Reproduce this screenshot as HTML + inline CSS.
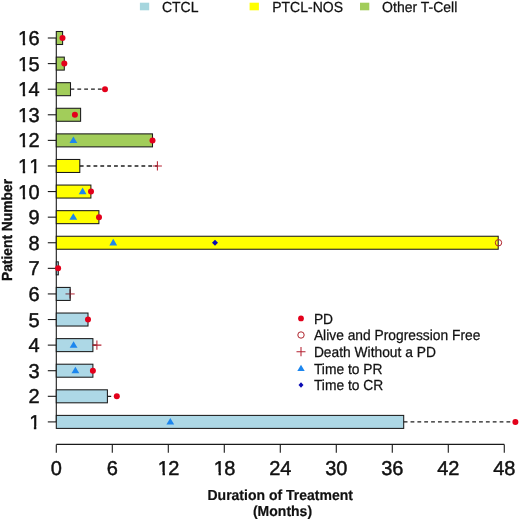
<!DOCTYPE html><html><head><meta charset="utf-8"><title>Swimmer plot</title><style>html,body{margin:0;padding:0;background:#fff;overflow:hidden;}svg{display:block;will-change:transform;}text{font-family:"Liberation Sans",sans-serif;text-rendering:geometricPrecision;stroke:#111;stroke-width:0.25px;}text.n{stroke-width:0.45px;}text.b{stroke-width:0.2px;}</style></head><body>
<svg width="520" height="520" viewBox="0 0 520 520">
<rect width="520" height="520" fill="#fff"/>
<rect x="139.9" y="2.7" width="9.3" height="7.6" fill="#A6D6DE"/>
<text transform="translate(161.90,11.70) scale(1,1.04)" font-size="14" fill="#111">CTCL</text>
<rect x="249.6" y="2.7" width="9.3" height="7.6" fill="#FFFF00"/>
<text transform="translate(272.20,11.70) scale(1,1.04)" font-size="14" fill="#111">PTCL-NOS</text>
<rect x="360.0" y="2.7" width="9.3" height="7.6" fill="#A2CD5A"/>
<text transform="translate(382.10,11.70) scale(1,1.04)" font-size="14" fill="#111">Other T-Cell</text>
<line x1="56.3" y1="38.00" x2="56.3" y2="421.90" stroke="#1a1a1a" stroke-width="1.1"/>
<line x1="47.8" y1="421.90" x2="56.3" y2="421.90" stroke="#1a1a1a" stroke-width="1.1"/>
<text class="n" x="29.18" y="428.90" font-size="20.0" fill="#111" clip-path="url(#c1)">1</text>
<line x1="47.8" y1="396.31" x2="56.3" y2="396.31" stroke="#1a1a1a" stroke-width="1.1"/>
<text class="n" x="28.48" y="403.31" font-size="20.0" fill="#111">2</text>
<line x1="47.8" y1="370.71" x2="56.3" y2="370.71" stroke="#1a1a1a" stroke-width="1.1"/>
<text class="n" x="28.48" y="377.71" font-size="20.0" fill="#111">3</text>
<line x1="47.8" y1="345.12" x2="56.3" y2="345.12" stroke="#1a1a1a" stroke-width="1.1"/>
<text class="n" x="28.48" y="352.12" font-size="20.0" fill="#111">4</text>
<line x1="47.8" y1="319.53" x2="56.3" y2="319.53" stroke="#1a1a1a" stroke-width="1.1"/>
<text class="n" x="28.48" y="326.53" font-size="20.0" fill="#111">5</text>
<line x1="47.8" y1="293.93" x2="56.3" y2="293.93" stroke="#1a1a1a" stroke-width="1.1"/>
<text class="n" x="28.48" y="300.93" font-size="20.0" fill="#111">6</text>
<line x1="47.8" y1="268.34" x2="56.3" y2="268.34" stroke="#1a1a1a" stroke-width="1.1"/>
<text class="n" x="28.48" y="275.34" font-size="20.0" fill="#111">7</text>
<line x1="47.8" y1="242.75" x2="56.3" y2="242.75" stroke="#1a1a1a" stroke-width="1.1"/>
<text class="n" x="28.48" y="249.75" font-size="20.0" fill="#111">8</text>
<line x1="47.8" y1="217.16" x2="56.3" y2="217.16" stroke="#1a1a1a" stroke-width="1.1"/>
<text class="n" x="28.48" y="224.16" font-size="20.0" fill="#111">9</text>
<line x1="47.8" y1="191.56" x2="56.3" y2="191.56" stroke="#1a1a1a" stroke-width="1.1"/>
<text class="n" x="18.05 28.48" y="198.56" font-size="20.0" fill="#111" clip-path="url(#c10)">10</text>
<line x1="47.8" y1="165.97" x2="56.3" y2="165.97" stroke="#1a1a1a" stroke-width="1.1"/>
<text class="n" x="18.05 29.18" y="172.97" font-size="20.0" fill="#111" clip-path="url(#c11)">11</text>
<line x1="47.8" y1="140.38" x2="56.3" y2="140.38" stroke="#1a1a1a" stroke-width="1.1"/>
<text class="n" x="18.05 28.48" y="147.38" font-size="20.0" fill="#111" clip-path="url(#c12)">12</text>
<line x1="47.8" y1="114.78" x2="56.3" y2="114.78" stroke="#1a1a1a" stroke-width="1.1"/>
<text class="n" x="18.05 28.48" y="121.78" font-size="20.0" fill="#111" clip-path="url(#c13)">13</text>
<line x1="47.8" y1="89.19" x2="56.3" y2="89.19" stroke="#1a1a1a" stroke-width="1.1"/>
<text class="n" x="18.05 28.48" y="96.19" font-size="20.0" fill="#111" clip-path="url(#c14)">14</text>
<line x1="47.8" y1="63.60" x2="56.3" y2="63.60" stroke="#1a1a1a" stroke-width="1.1"/>
<text class="n" x="18.05 28.48" y="70.60" font-size="20.0" fill="#111" clip-path="url(#c15)">15</text>
<line x1="47.8" y1="38.00" x2="56.3" y2="38.00" stroke="#1a1a1a" stroke-width="1.1"/>
<text class="n" x="18.05 28.48" y="45.00" font-size="20.0" fill="#111" clip-path="url(#c16)">16</text>
<line x1="56.3" y1="444.4" x2="504.28" y2="444.4" stroke="#1a1a1a" stroke-width="1.1"/>
<line x1="56.30" y1="444.4" x2="56.30" y2="452.8" stroke="#1a1a1a" stroke-width="1.1"/>
<text class="n" x="50.74" y="474.60" font-size="20.0" fill="#111">0</text>
<line x1="112.30" y1="444.4" x2="112.30" y2="452.8" stroke="#1a1a1a" stroke-width="1.1"/>
<text class="n" x="106.74" y="474.60" font-size="20.0" fill="#111">6</text>
<line x1="168.30" y1="444.4" x2="168.30" y2="452.8" stroke="#1a1a1a" stroke-width="1.1"/>
<text class="n" x="157.87 168.30" y="474.60" font-size="20.0" fill="#111" clip-path="url(#x12)">12</text>
<line x1="224.29" y1="444.4" x2="224.29" y2="452.8" stroke="#1a1a1a" stroke-width="1.1"/>
<text class="n" x="213.87 224.29" y="474.60" font-size="20.0" fill="#111" clip-path="url(#x18)">18</text>
<line x1="280.29" y1="444.4" x2="280.29" y2="452.8" stroke="#1a1a1a" stroke-width="1.1"/>
<text class="n" x="269.17 280.29" y="474.60" font-size="20.0" fill="#111">24</text>
<line x1="336.29" y1="444.4" x2="336.29" y2="452.8" stroke="#1a1a1a" stroke-width="1.1"/>
<text class="n" x="325.17 336.29" y="474.60" font-size="20.0" fill="#111">30</text>
<line x1="392.29" y1="444.4" x2="392.29" y2="452.8" stroke="#1a1a1a" stroke-width="1.1"/>
<text class="n" x="381.16 392.29" y="474.60" font-size="20.0" fill="#111">36</text>
<line x1="448.29" y1="444.4" x2="448.29" y2="452.8" stroke="#1a1a1a" stroke-width="1.1"/>
<text class="n" x="437.16 448.29" y="474.60" font-size="20.0" fill="#111">42</text>
<line x1="504.28" y1="444.4" x2="504.28" y2="452.8" stroke="#1a1a1a" stroke-width="1.1"/>
<text class="n" x="493.16 504.28" y="474.60" font-size="20.0" fill="#111">48</text>
<defs><clipPath id="c1"><rect x="18.48" y="128.90" width="31.12" height="297.30"/><rect x="18.48" y="426.20" width="10.40" height="6"/><rect x="33.91" y="426.20" width="2.37" height="6"/><rect x="40.30" y="426.20" width="9.30" height="6"/></clipPath><clipPath id="c10"><rect x="7.35" y="-101.44" width="42.25" height="297.30"/><rect x="7.35" y="195.86" width="10.40" height="6"/><rect x="22.78" y="195.86" width="2.37" height="6"/><rect x="29.18" y="195.86" width="20.42" height="6"/></clipPath><clipPath id="c11"><rect x="7.35" y="-127.03" width="42.25" height="297.30"/><rect x="7.35" y="170.27" width="10.40" height="6"/><rect x="22.78" y="170.27" width="2.37" height="6"/><rect x="33.91" y="170.27" width="2.37" height="6"/><rect x="40.30" y="170.27" width="9.30" height="6"/></clipPath><clipPath id="c12"><rect x="7.35" y="-152.62" width="42.25" height="297.30"/><rect x="7.35" y="144.68" width="10.40" height="6"/><rect x="22.78" y="144.68" width="2.37" height="6"/><rect x="29.18" y="144.68" width="20.42" height="6"/></clipPath><clipPath id="c13"><rect x="7.35" y="-178.22" width="42.25" height="297.30"/><rect x="7.35" y="119.08" width="10.40" height="6"/><rect x="22.78" y="119.08" width="2.37" height="6"/><rect x="29.18" y="119.08" width="20.42" height="6"/></clipPath><clipPath id="c14"><rect x="7.35" y="-203.81" width="42.25" height="297.30"/><rect x="7.35" y="93.49" width="10.40" height="6"/><rect x="22.78" y="93.49" width="2.37" height="6"/><rect x="29.18" y="93.49" width="20.42" height="6"/></clipPath><clipPath id="c15"><rect x="7.35" y="-229.40" width="42.25" height="297.30"/><rect x="7.35" y="67.90" width="10.40" height="6"/><rect x="22.78" y="67.90" width="2.37" height="6"/><rect x="29.18" y="67.90" width="20.42" height="6"/></clipPath><clipPath id="c16"><rect x="7.35" y="-255.00" width="42.25" height="297.30"/><rect x="7.35" y="42.30" width="10.40" height="6"/><rect x="22.78" y="42.30" width="2.37" height="6"/><rect x="29.18" y="42.30" width="20.42" height="6"/></clipPath><clipPath id="x12"><rect x="147.17" y="174.60" width="42.25" height="297.30"/><rect x="147.17" y="471.90" width="10.40" height="6"/><rect x="162.60" y="471.90" width="2.37" height="6"/><rect x="169.00" y="471.90" width="20.42" height="6"/></clipPath><clipPath id="x18"><rect x="203.17" y="174.60" width="42.25" height="297.30"/><rect x="203.17" y="471.90" width="10.40" height="6"/><rect x="218.60" y="471.90" width="2.37" height="6"/><rect x="224.99" y="471.90" width="20.42" height="6"/></clipPath></defs>
<text transform="translate(280.20,499.60) scale(1,1.04)" font-size="14" font-weight="bold" class="b" text-anchor="middle" fill="#111">Duration of Treatment</text>
<text transform="translate(282.50,515.80) scale(1,1.04)" font-size="14" font-weight="bold" class="b" text-anchor="middle" fill="#111">(Months)</text>
<text transform="translate(11.7,230.0) rotate(-90) scale(0.986,1.04)" font-size="14" font-weight="bold" class="b" style="stroke-width:0.35px" text-anchor="middle" fill="#111">Patient Number</text>
<rect x="56.3" y="31.50" width="6.30" height="13.00" fill="#A2CD5A" stroke="#1a1a1a" stroke-width="1.05"/>
<rect x="56.3" y="57.10" width="8.00" height="13.00" fill="#A2CD5A" stroke="#1a1a1a" stroke-width="1.05"/>
<rect x="56.3" y="82.69" width="14.20" height="13.00" fill="#A2CD5A" stroke="#1a1a1a" stroke-width="1.05"/>
<rect x="56.3" y="108.28" width="24.30" height="13.00" fill="#A2CD5A" stroke="#1a1a1a" stroke-width="1.05"/>
<rect x="56.3" y="133.88" width="96.20" height="13.00" fill="#A2CD5A" stroke="#1a1a1a" stroke-width="1.05"/>
<rect x="56.3" y="159.47" width="23.50" height="13.00" fill="#FFFF00" stroke="#1a1a1a" stroke-width="1.05"/>
<rect x="56.3" y="185.06" width="34.60" height="13.00" fill="#FFFF00" stroke="#1a1a1a" stroke-width="1.05"/>
<rect x="56.3" y="210.66" width="42.60" height="13.00" fill="#FFFF00" stroke="#1a1a1a" stroke-width="1.05"/>
<rect x="56.3" y="236.25" width="441.90" height="13.00" fill="#FFFF00" stroke="#1a1a1a" stroke-width="1.05"/>
<rect x="56.3" y="261.84" width="2.00" height="13.00" fill="#ADD8E6" stroke="#1a1a1a" stroke-width="1.05"/>
<rect x="56.3" y="287.43" width="13.90" height="13.00" fill="#ADD8E6" stroke="#1a1a1a" stroke-width="1.05"/>
<rect x="56.3" y="313.03" width="31.70" height="13.00" fill="#ADD8E6" stroke="#1a1a1a" stroke-width="1.05"/>
<rect x="56.3" y="338.62" width="36.60" height="13.00" fill="#ADD8E6" stroke="#1a1a1a" stroke-width="1.05"/>
<rect x="56.3" y="364.21" width="36.60" height="13.00" fill="#ADD8E6" stroke="#1a1a1a" stroke-width="1.05"/>
<rect x="56.3" y="389.81" width="51.10" height="13.00" fill="#ADD8E6" stroke="#1a1a1a" stroke-width="1.05"/>
<rect x="56.3" y="415.40" width="347.40" height="13.00" fill="#ADD8E6" stroke="#1a1a1a" stroke-width="1.05"/>
<circle cx="62.50" cy="38.00" r="3.0" fill="#E3001B"/>
<circle cx="64.30" cy="63.60" r="3.0" fill="#E3001B"/>
<line x1="70.50" y1="89.19" x2="105.00" y2="89.19" stroke="#1e1e1e" stroke-width="1.35" stroke-dasharray="3.8 3.05"/>
<circle cx="105.00" cy="89.19" r="3.0" fill="#E3001B"/>
<circle cx="74.90" cy="114.78" r="3.0" fill="#E3001B"/>
<path d="M73.40,136.42 L77.30,143.02 L69.50,143.02 Z" fill="#1C86EE"/>
<circle cx="152.50" cy="140.38" r="3.0" fill="#E3001B"/>
<line x1="79.80" y1="165.97" x2="157.40" y2="165.97" stroke="#1e1e1e" stroke-width="1.35" stroke-dasharray="3.8 3.05"/>
<path d="M152.90,165.97 H161.90 M157.40,161.37 V170.57" stroke="#B52232" stroke-width="1.05" fill="none"/>
<path d="M82.60,187.60 L86.50,194.20 L78.70,194.20 Z" fill="#1C86EE"/>
<circle cx="91.00" cy="191.56" r="3.0" fill="#E3001B"/>
<path d="M73.30,213.20 L77.20,219.80 L69.40,219.80 Z" fill="#1C86EE"/>
<circle cx="99.00" cy="217.16" r="3.0" fill="#E3001B"/>
<path d="M113.25,238.79 L117.15,245.39 L109.35,245.39 Z" fill="#1C86EE"/>
<path d="M215.00,239.65 L218.00,242.75 L215.00,245.85 L212.00,242.75 Z" fill="#0A0AB4"/>
<circle cx="498.50" cy="242.75" r="3.2" fill="none" stroke="#B0262E" stroke-width="1"/>
<circle cx="58.10" cy="268.34" r="3.0" fill="#E3001B"/>
<path d="M65.50,293.93 H70.10" stroke="#7a4a55" stroke-width="1.15" fill="none"/>
<path d="M70.10,293.93 H74.70" stroke="#B52232" stroke-width="1.15" fill="none" opacity="0.85"/>
<path d="M70.10,289.33 V298.53" stroke="#5a1c24" stroke-width="1.15" fill="none"/>
<circle cx="88.00" cy="319.53" r="3.0" fill="#E3001B"/>
<line x1="92.90" y1="345.12" x2="96.90" y2="345.12" stroke="#1e1e1e" stroke-width="1.35" stroke-dasharray="3.8 3.05"/>
<path d="M73.60,341.16 L77.50,347.76 L69.70,347.76 Z" fill="#1C86EE"/>
<path d="M92.40,345.12 H101.40 M96.90,340.52 V349.72" stroke="#B52232" stroke-width="1.05" fill="none"/>
<path d="M75.40,366.75 L79.30,373.35 L71.50,373.35 Z" fill="#1C86EE"/>
<circle cx="92.90" cy="370.71" r="3.0" fill="#E3001B"/>
<line x1="107.40" y1="396.31" x2="116.80" y2="396.31" stroke="#1e1e1e" stroke-width="1.35" stroke-dasharray="3.8 3.05"/>
<circle cx="116.80" cy="396.31" r="3.0" fill="#E3001B"/>
<line x1="403.70" y1="421.90" x2="515.40" y2="421.90" stroke="#1e1e1e" stroke-width="1.35" stroke-dasharray="3.8 3.05"/>
<path d="M170.30,417.94 L174.20,424.54 L166.40,424.54 Z" fill="#1C86EE"/>
<circle cx="515.40" cy="421.90" r="3.0" fill="#E3001B"/>
<circle cx="301.0" cy="318.4" r="2.9" fill="#E3001B"/>
<circle cx="301.0" cy="335.0" r="3.2" fill="none" stroke="#B0262E" stroke-width="1"/>
<path d="M296.50,351.70 H305.50 M301.00,347.10 V356.30" stroke="#B52232" stroke-width="1.05" fill="none"/>
<path d="M301.00,364.78 L304.70,370.98 L297.30,370.98 Z" fill="#1C86EE"/>
<path d="M301.0,382.20 L303.50,385.0 L301.0,387.80 L298.50,385.0 Z" fill="#0A0AB4"/>
<text transform="translate(313.9,323.80) scale(0.986,1.04)" font-size="14" fill="#111">PD</text>
<text transform="translate(313.9,340.40) scale(0.986,1.04)" font-size="14" fill="#111">Alive and Progression Free</text>
<text transform="translate(313.9,357.10) scale(0.986,1.04)" font-size="14" fill="#111">Death Without a PD</text>
<text transform="translate(313.9,373.60) scale(0.986,1.04)" font-size="14" fill="#111">Time to PR</text>
<text transform="translate(313.9,390.40) scale(0.986,1.04)" font-size="14" fill="#111">Time to CR</text>
</svg></body></html>
